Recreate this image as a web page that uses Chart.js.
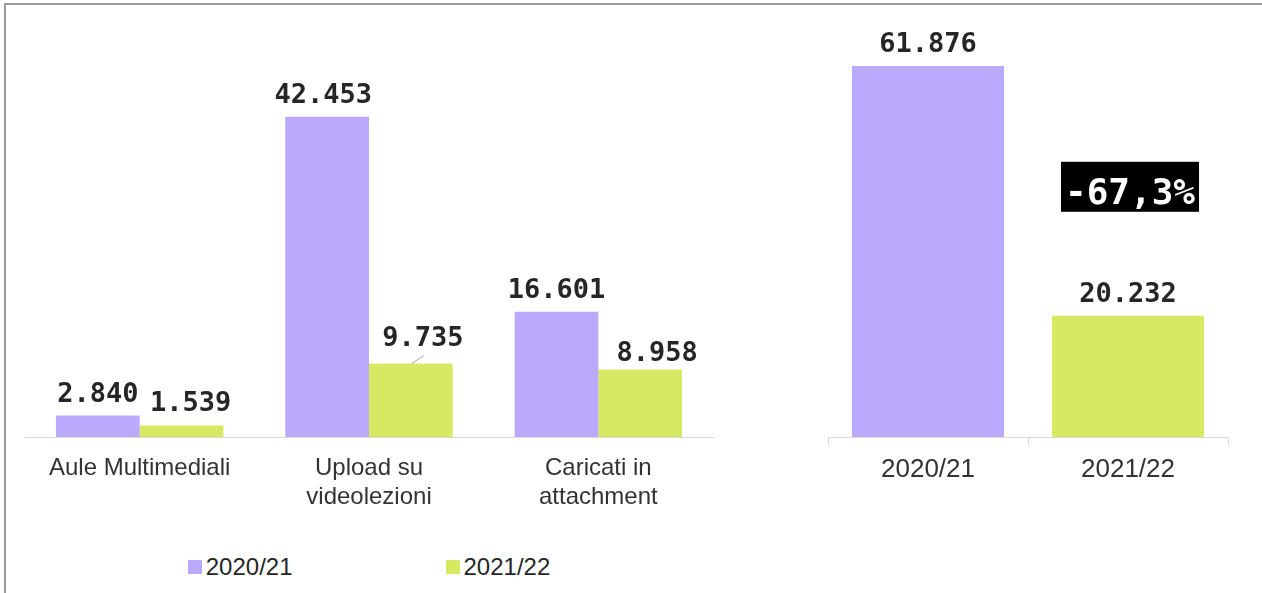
<!DOCTYPE html>
<html><head><meta charset="utf-8">
<script src="https://cdn.jsdelivr.net/npm/chart.js@4"></script>
<style>
html,body{margin:0;padding:0;background:#fff;}
body{width:1262px;height:593px;position:relative;overflow:hidden;font-family:"Liberation Sans",Arial,sans-serif;}
#frame{position:absolute;left:4px;top:3px;width:1300px;height:700px;border-top:2px solid #9b9b9b;border-left:2px solid #9b9b9b;}
#c1{position:absolute;left:0;top:0;}
#c2{position:absolute;left:760px;top:0;}
#legend{position:absolute;left:25px;width:688px;top:553px;display:flex;justify-content:center;gap:153px;}
.leg{font-size:24px;color:#262626;line-height:28px;display:flex;align-items:center;}
.sw{width:14px;height:14px;margin-right:4px;display:inline-block;}
</style></head>
<body>
<div id="frame"></div>
<canvas id="c1" width="740" height="540"></canvas>
<canvas id="c2" width="502" height="540"></canvas>
<div id="legend"></div>
<script>
// ---- data ----
const categories = ['Aule Multimediali', ['Upload su', 'videolezioni'], ['Caricati in', 'attachment']];
const seriesNames = ['2020/21', '2021/22'];
const values2020 = [2840, 42453, 16601];
const values2021 = [1539, 9735, 8958];
const totalCategories = ['2020/21', '2021/22'];
const totalValues = [61876, 20232];
const changeLabel = '-67,3%';

// ---- styles ----
const colors = ['#baa9fc', '#d7e962'];
const labelFont = 'bold 27px "DejaVu Sans Mono", monospace';
const tickFamily = '"Liberation Sans", Arial, sans-serif';
// per-label nudges [dx, dy, leaderLine]
const leftOffsets = [
  [[0, 0, false], [-4, 0, false], [0, 0, false]],
  [[9, 0, false], [12, -4, true], [17, 6, false]]
];

function fmt(v) { return String(v).replace(/\B(?=(\d{3})+(?!\d))/g, '.'); }

const valueLabels = {
  id: 'valueLabels',
  afterDatasetsDraw(chart, args, opts) {
    const ctx = chart.ctx;
    ctx.save();
    ctx.font = labelFont;
    ctx.fillStyle = '#262626';
    ctx.textAlign = 'center';
    ctx.textBaseline = 'alphabetic';
    chart.data.datasets.forEach((ds, di) => {
      const meta = chart.getDatasetMeta(di);
      meta.data.forEach((bar, i) => {
        const off = (opts.offsets && opts.offsets[di] && opts.offsets[di][i]) || [0, 0, false];
        const x = bar.x + off[0], y = bar.y - 14 + off[1];
        ctx.fillText(fmt(ds.data[i]), x, y);
        if (off[2]) {
          ctx.save();
          ctx.strokeStyle = '#a0a0a0';
          ctx.lineWidth = 1;
          ctx.beginPath();
          ctx.moveTo(bar.x + 1, bar.y);
          ctx.lineTo(x + 1, y + 10);
          ctx.stroke();
          ctx.restore();
        }
      });
    });
    ctx.restore();
  }
};

const changeBox = {
  id: 'changeBox',
  afterDatasetsDraw(chart) {
    const ctx = chart.ctx;
    const meta = chart.getDatasetMeta(0);
    const b1 = meta.data[0], b2 = meta.data[1];
    const cy = (b1.y + b2.y) / 2 - 4;
    const cx = b2.x + 2;
    ctx.save();
    ctx.font = 'bold 36px "DejaVu Sans Mono", monospace';
    const w = ctx.measureText(changeLabel).width;
    ctx.fillStyle = '#000';
    ctx.fillRect(cx - w / 2 - 4, cy - 25, w + 8, 50);
    ctx.fillStyle = '#fff';
    ctx.textAlign = 'center';
    ctx.textBaseline = 'alphabetic';
    ctx.fillText(changeLabel, cx, cy + 17);
    ctx.restore();
  }
};

new Chart(document.getElementById('c1'), {
  type: 'bar',
  data: {
    labels: categories,
    datasets: [
      { label: seriesNames[0], data: values2020, backgroundColor: colors[0], barPercentage: 1, categoryPercentage: 0.73 },
      { label: seriesNames[1], data: values2021, backgroundColor: colors[1], barPercentage: 1, categoryPercentage: 0.73 }
    ]
  },
  options: {
    responsive: false, animation: false, events: [],
    layout: { padding: { left: 25, right: 27, top: 22, bottom: 0 } },
    plugins: { legend: { display: false }, tooltip: { enabled: false }, valueLabels: { offsets: leftOffsets } },
    scales: {
      x: {
        grid: { display: false, drawTicks: false },
        border: { display: true, color: '#d9d9d9', width: 1 },
        ticks: { font: { family: tickFamily, size: 24 }, color: '#333', padding: 17, maxRotation: 0, autoSkip: false },
        afterFit(s) { s.height = 103; }
      },
      y: { display: false, min: 0, max: 55000 }
    }
  },
  plugins: [valueLabels]
});

new Chart(document.getElementById('c2'), {
  type: 'bar',
  data: {
    labels: totalCategories,
    datasets: [
      { label: 'Totale', data: totalValues, backgroundColor: colors, barPercentage: 0.76, categoryPercentage: 1 }
    ]
  },
  options: {
    responsive: false, animation: false, events: [],
    layout: { padding: { left: 68, right: 34, top: 22, bottom: 0 } },
    plugins: { legend: { display: false }, tooltip: { enabled: false } },
    scales: {
      x: {
        grid: { display: true, drawOnChartArea: false, drawTicks: true, tickLength: 9, color: '#d9d9d9', offset: true },
        border: { display: true, color: '#d9d9d9', width: 1 },
        ticks: { font: { family: tickFamily, size: 26 }, color: '#333', padding: 8, maxRotation: 0, autoSkip: false },
        afterFit(s) { s.height = 103; }
      },
      y: { display: false, min: 0, max: 69200 }
    }
  },
  plugins: [valueLabels, changeBox]
});

// legend
const legend = document.getElementById('legend');
seriesNames.forEach((n, i) => {
  const d = document.createElement('div');
  d.className = 'leg';
  const s = document.createElement('span');
  s.className = 'sw';
  s.style.background = colors[i];
  d.appendChild(s);
  d.appendChild(document.createTextNode(n));
  legend.appendChild(d);
});
</script>
</body></html>
